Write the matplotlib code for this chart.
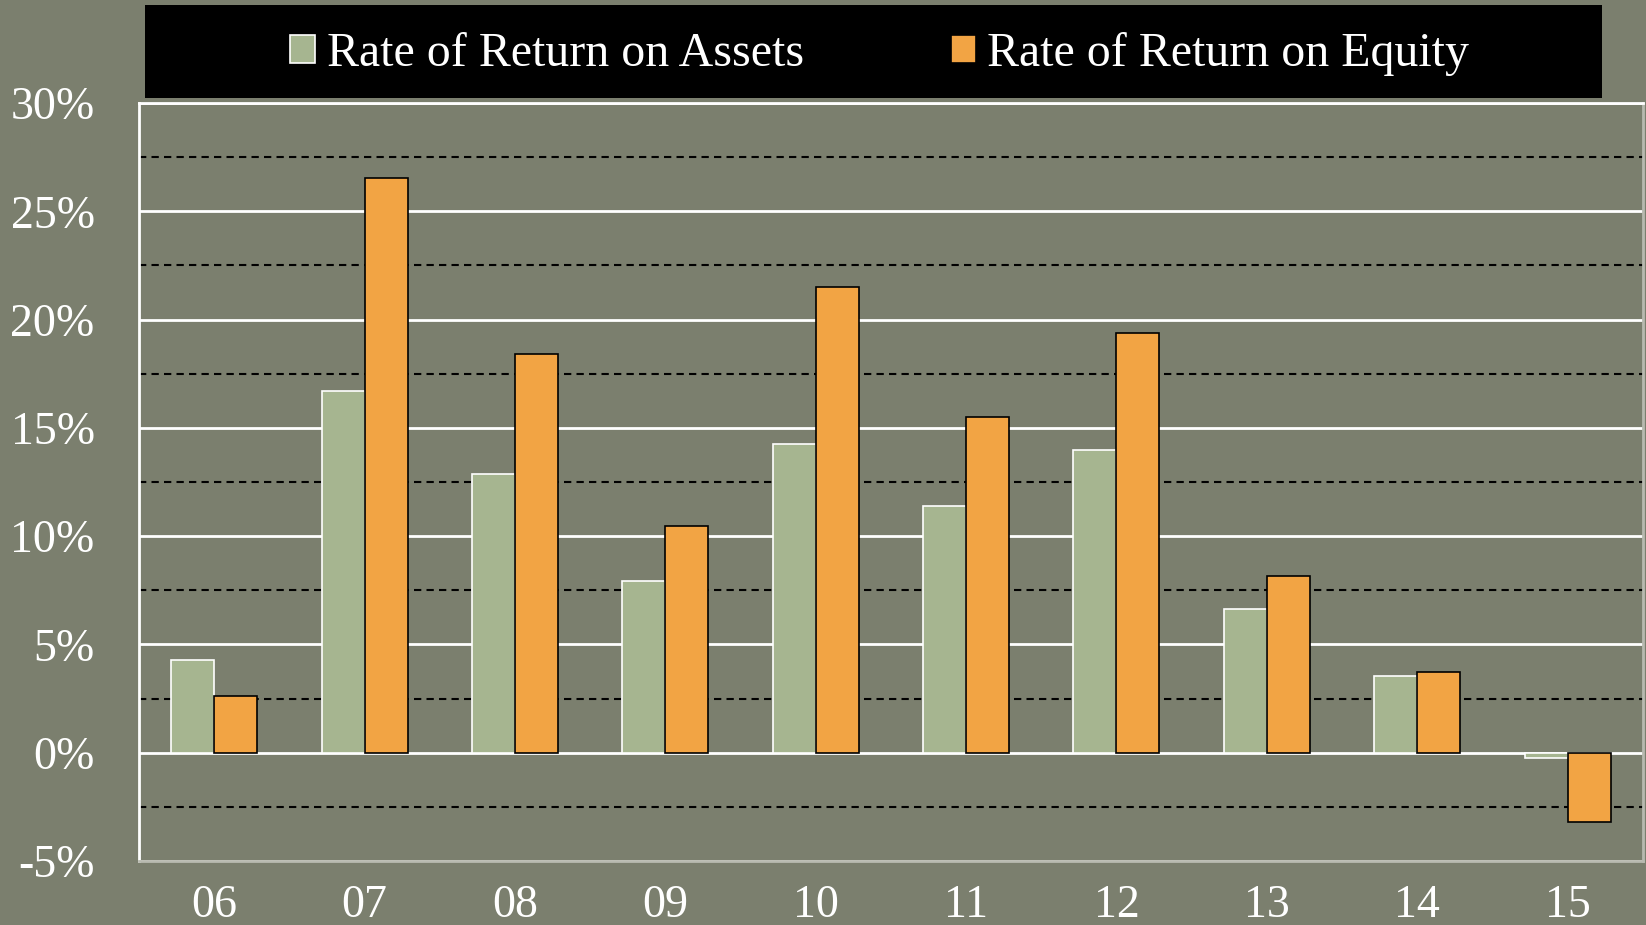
import matplotlib
matplotlib.use("Agg")
import matplotlib.pyplot as plt
import numpy as np
from matplotlib.patches import Rectangle
from matplotlib.ticker import MultipleLocator, FuncFormatter

years = ["06", "07", "08", "09", "10", "11", "12", "13", "14", "15"]
roa = [4.3, 16.7, 12.85, 7.95, 14.25, 11.4, 14.0, 6.65, 3.55, -0.25]
roe = [2.6, 26.55, 18.4, 10.45, 21.5, 15.5, 19.4, 8.15, 3.75, -3.2]
series_labels = ["Rate of Return on Assets", "Rate of Return on Equity"]

BG = "#7b7f6e"
C_ROA = "#a6b590"
C_ROE = "#f2a444"

plt.rcParams["font.family"] = ["Liberation Serif", "DejaVu Serif"]

fig = plt.figure(figsize=(16.46, 9.25), dpi=100)
fig.patch.set_facecolor(BG)
ax = fig.add_axes([0.0845, 0.0692, 0.9135, 0.8194])
ax.set_facecolor(BG)

x = np.arange(len(years))
w = 0.286
ax.bar(x - w / 2, roa, width=w, color=C_ROA, edgecolor="white", linewidth=1.2,
       label=series_labels[0], zorder=3)
ax.bar(x + w / 2, roe, width=w, color=C_ROE, edgecolor="black", linewidth=1.2,
       label=series_labels[1], zorder=3)

ax.set_xlim(-0.5, len(years) - 0.5)
ax.set_ylim(-5, 30)
ax.yaxis.set_major_locator(MultipleLocator(5))
ax.yaxis.set_minor_locator(MultipleLocator(2.5))
ax.yaxis.set_major_formatter(FuncFormatter(lambda v, p: f"{v:.0f}%"))
ax.grid(axis="y", which="major", color="white", linewidth=2, zorder=1)
ax.grid(axis="y", which="minor", color="black", linestyle=(0, (3.5, 2.5)), linewidth=1.5, zorder=1)
ax.set_axisbelow(True)

ax.set_xticks(x)
ax.set_xticklabels(years)
ax.tick_params(axis="both", which="both", length=0, colors="white", labelsize=33)
ax.tick_params(axis="y", pad=32)
ax.tick_params(axis="x", pad=17)

for s in ["left", "top"]:
    ax.spines[s].set_color("white")
    ax.spines[s].set_linewidth(2)
for s in ["right", "bottom"]:
    ax.spines[s].set_color("#b8bab0")
    ax.spines[s].set_linewidth(2)

# legend with black box
fig.patches.append(Rectangle((145 / 1646, 1 - 98 / 925), 1457 / 1646, 93 / 925,
                             transform=fig.transFigure, facecolor="black",
                             edgecolor="none", zorder=0))
h, l = ax.get_legend_handles_labels()
leg = fig.legend(h, l, loc="center", bbox_to_anchor=(0.5346, 1 - 54 / 925), ncol=2,
                 frameon=False, fontsize=34.5, handlelength=0.52, handleheight=0.52,
                 handletextpad=0.25, columnspacing=3.05)
for t in leg.get_texts():
    t.set_color("white")

fig.savefig("out.png", dpi=100, facecolor=BG)
